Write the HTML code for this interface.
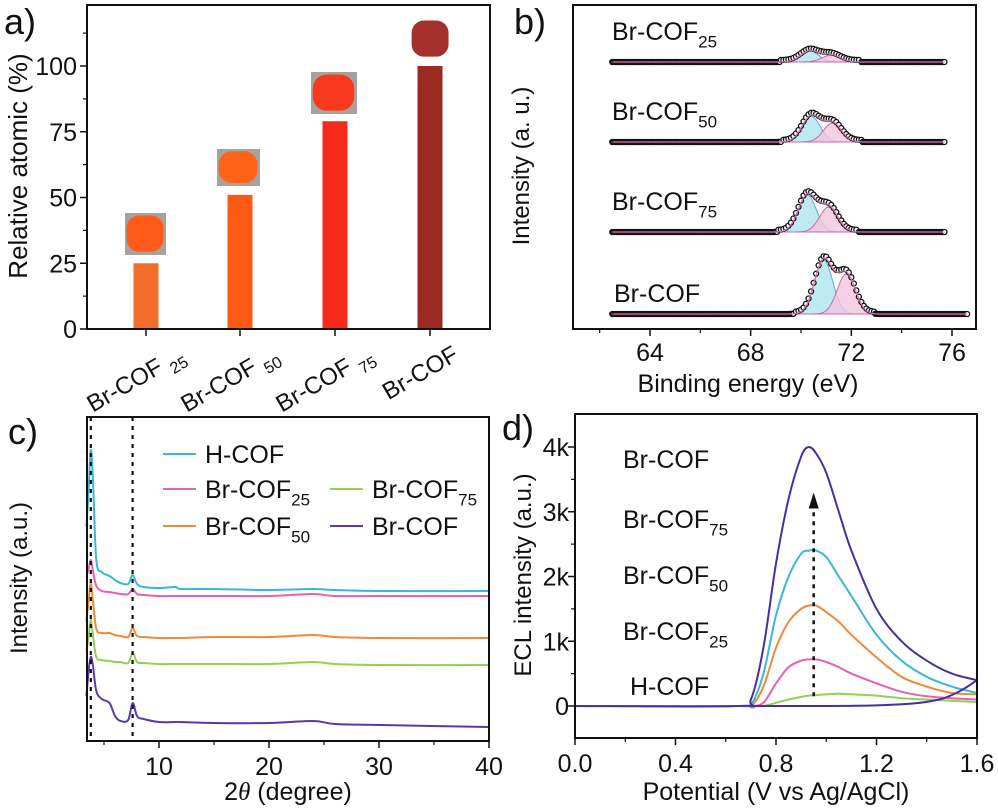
<!DOCTYPE html>
<html><head><meta charset="utf-8"><style>
body{margin:0;background:#fff}
svg{display:block;font-family:"Liberation Sans",Arial,sans-serif}
</style></head><body>
<svg id="fig" width="998" height="809" viewBox="0 0 998 809" xmlns="http://www.w3.org/2000/svg">
<g id="pa"></g>
<g id="pb"></g>
<g id="pc"></g>
<g id="pd"></g>
</svg>
<script>
// ---------- Panel a data ----------
const aCats = ["25","50","75",""];
const aVals = [25, 51, 79, 100];
const aColors = ["#f36e2b","#ff5a14","#f52a18","#9b2a22"];
const aTicks = [0,25,50,75,100];
// ---------- Panel b data ----------
const bLabels = ["25","50","75",""];
const bBase = [267,187,97,15];
const bP1c = [70.35,70.4,70.25,70.9];
const bP1h = [11,26,37,54];
const bP2c = [71.2,71.25,71.1,71.8];
const bP2h = [7,19,25,40];
const bEnd = [75.7,75.7,75.7,76.6];
const bTicks = [64,68,72,76];
// ---------- Panel c data ----------
const cX = [3.4,3.6,3.8,4.0,4.3,4.8,5.5,6.0,6.5,7.2,7.6,8.0,8.6,10,11.5,12,15,20,24,26,30,40];
const cH  = [214,250,291,260,181,169,165,161,158,157,166,157,154,153,154,152,152,151,152,151,150,150];
const c25 = [164,172,181,170,155,150,149,148,147,147,152,147,146,145,145,145,145,145,147,145,145,145];
const c50 = [120,140,158,140,112,108,108,106,105,104,113,105,104,103,103,103,104,104,106,104,103,103];
const c75 = [90,105,121,105,84,81,80,79,79,78,88,79,78,77,77,77,77,77,79,77,76,76];
const cBr = [45,70,84,75,50,42,38,25,20,21,38,25,22,19,19,19,18,18,20,17,16,14];
const cTicks = [10,20,30,40];
// ---------- Panel d data ----------
const dX = [0,0.65,0.7,0.75,0.8,0.85,0.9,0.93,0.96,1.0,1.05,1.1,1.2,1.3,1.4,1.5,1.6];
const dBr = [0,0,0.1,0.9,2.2,3.2,3.85,4.0,3.9,3.6,3.0,2.4,1.5,1.0,0.7,0.5,0.4];
const d75 = [0,0,0.02,0.5,1.4,2.0,2.35,2.4,2.4,2.3,2.0,1.7,1.1,0.7,0.45,0.3,0.2];
const d50 = [0,0,0,0.3,0.9,1.3,1.5,1.55,1.55,1.45,1.3,1.1,0.75,0.45,0.3,0.2,0.18];
const d25 = [0,0,0,0.05,0.35,0.6,0.7,0.72,0.72,0.68,0.6,0.5,0.35,0.22,0.15,0.12,0.1];
const dH  = [0,0,0,0,0.05,0.1,0.14,0.16,0.17,0.18,0.19,0.18,0.16,0.12,0.1,0.08,0.06];
const dRetX = [0.7,1.0,1.2,1.35,1.45,1.5,1.55,1.6];
const dRetY = [0,0,0.01,0.04,0.1,0.17,0.27,0.4];
const dYTicks = [0,1,2,3,4];
const dXTicks = [0,0.4,0.8,1.2,1.6];

const NS="http://www.w3.org/2000/svg";
function mk(parent,tag,attrs,text){const e=document.createElementNS(NS,tag);for(const k in attrs)e.setAttribute(k,attrs[k]);if(text!==undefined)e.textContent=text;parent.appendChild(e);return e;}
function lin(d0,d1,r0,r1){return v=>r0+(v-d0)*(r1-r0)/(d1-d0);}
function poly(xs,ys,sx,sy){return xs.map((x,i)=>sx(x).toFixed(1)+","+sy(ys[i]).toFixed(1)).join(" ");}
function smooth(xs,ys,sx,sy){
  const p=xs.map((x,i)=>[sx(x),sy(ys[i])]);
  let d=`M${p[0][0]},${p[0][1]}`;
  for(let i=0;i<p.length-1;i++){
    const p0=p[i-1]||p[i],p1=p[i],p2=p[i+1],p3=p[i+2]||p2;
    const c1=[p1[0]+(p2[0]-p0[0])/6,p1[1]+(p2[1]-p0[1])/6];
    const c2=[p2[0]-(p3[0]-p1[0])/6,p2[1]-(p3[1]-p1[1])/6];
    d+=` C${c1[0].toFixed(1)},${c1[1].toFixed(1)} ${c2[0].toFixed(1)},${c2[1].toFixed(1)} ${p2[0].toFixed(1)},${p2[1].toFixed(1)}`;
  }
  return d;
}
function label(g,x,y,main,sub,size,anchor){
  const t=mk(g,"text",{x:x,y:y,"font-size":size,"text-anchor":anchor||"start",fill:"#111"});
  t.appendChild(document.createTextNode(main));
  if(sub){const s=document.createElementNS(NS,"tspan");s.setAttribute("font-size",size*0.68);s.setAttribute("dy",size*0.3);s.textContent=sub;t.appendChild(s);}
  return t;
}

// ===== Panel a =====
(function(){
const g=document.getElementById("pa");
const L=87,R=490,T=5,B=329;
const sy=lin(0,123.2,B,T);
const xs=[146,240,335,430];
const photos=[[125,213,41,42,"#a7a29b","#ff5a1a"],[217,149,43,37,"#a7a29b","#ff6318"],[311,72,46,42,"#a7a29b","#f8391e"],[410,18,41,42,"none","#a3302a"]];
photos.forEach((p,i)=>{
  const r=mk(g,"rect",{x:p[0],y:p[1],width:p[2],height:p[3],fill:p[4]});
  
  
  const e=mk(g,"rect",{x:p[0]+p[2]*0.04,y:p[1]+p[3]*0.06,width:p[2]*0.9,height:p[3]*0.86,rx:p[2]*0.3,fill:p[5]});
  
  
});
aVals.forEach((v,i)=>{
  const b=mk(g,"rect",{x:xs[i]-12.5,y:sy(v),width:25,height:B-sy(v),fill:aColors[i]});
  
  
});
mk(g,"rect",{x:L,y:T,width:R-L,height:B-T,fill:"none",stroke:"#111","stroke-width":2});
aTicks.forEach(v=>{
  mk(g,"line",{x1:L-7,x2:L,y1:sy(v),y2:sy(v),stroke:"#111","stroke-width":1.5});
  const t=mk(g,"text",{x:L-10,y:sy(v)+9,"font-size":25,"text-anchor":"end",fill:"#111"},String(v));
  
  
});
[12.5,37.5,62.5,87.5,112.5].forEach(v=>mk(g,"line",{x1:L-4,x2:L,y1:sy(v),y2:sy(v),stroke:"#111","stroke-width":1.2}));
xs.forEach((x,i)=>{
  mk(g,"line",{x1:x,x2:x,y1:B,y2:B+7,stroke:"#111","stroke-width":1.5});
  const tg=mk(g,"g",{transform:`translate(${x+(aCats[i]?40:30)},${B+30}) rotate(-30)`});
  const t=label(tg,0,0,aCats[i]?"Br-COF ":"Br-COF",aCats[i],24,"end");
  
  
});
const yl=mk(g,"text",{x:0,y:0,"font-size":26,"text-anchor":"middle",fill:"#111",transform:"translate(27,166) rotate(-90)"},"Relative atomic (%)");


const pl=mk(g,"text",{x:4,y:34,"font-size":36,fill:"#111"},"a)");


})();

// ===== Panel b =====
(function(){
const g=document.getElementById("pb");
const L=573,R=976,T=5,B=329;
const sx=lin(64,76,650,952);
const sy=lin(0,324,B,T);
const gau=(x,c,h)=>h*Math.exp(-0.5*((x-c)/0.36)**2);
bBase.forEach((b,i)=>{
  const xs=[];for(let x=62.5;x<=bEnd[i]+1e-6;x+=0.05)xs.push(+x.toFixed(2));
  const p1=xs.map(x=>b+gau(x,bP1c[i],bP1h[i]));
  const p2=xs.map(x=>b+gau(x,bP2c[i],bP2h[i]));
  const env=xs.map((x,k)=>p1[k]+p2[k]-b);
  const a1=mk(g,"polygon",{points:poly(xs,p1,sx,sy)+` ${sx(bEnd[i])},${sy(b)} ${sx(62.5)},${sy(b)}`,fill:"#bfe9f3",stroke:"#5aaec8","stroke-width":1});
  
  
  const a2=mk(g,"polygon",{points:poly(xs,p2,sx,sy)+` ${sx(bEnd[i])},${sy(b)} ${sx(62.5)},${sy(b)}`,fill:"#f4c4dc","fill-opacity":0.8,stroke:"#c86aa8","stroke-width":1});
  
  
  const dots=mk(g,"g",{});
  
  
  for(let k=0;k<xs.length;k++){
    const x=xs[k];
    const inPeak=Math.abs(x-(bP1c[i]+bP2c[i])/2)<1.6;
    if(inPeak && k%2) continue;
    mk(dots,"circle",{cx:sx(x),cy:sy(env[k]+(inPeak?2:0)),r:2.5,fill:"#fff",stroke:"#111","stroke-width":1.3});
  }
  const env2=mk(g,"polyline",{points:poly(xs,env,sx,sy),fill:"none",stroke:"#d86fb0","stroke-width":1.2});
  
  
  const lb=label(g,bLabels[i]?612:614,sy(b)-(bLabels[i]?22:12),"Br-COF",bLabels[i],25);
  
  
});
mk(g,"rect",{x:L,y:T,width:R-L,height:B-T,fill:"none",stroke:"#111","stroke-width":2});
bTicks.forEach(v=>{
  mk(g,"line",{x1:sx(v),x2:sx(v),y1:B,y2:B+7,stroke:"#111","stroke-width":1.5});
  const t=mk(g,"text",{x:sx(v),y:B+32,"font-size":25,"text-anchor":"middle",fill:"#111"},String(v));
  
  
});
[62,66,70,74].forEach(v=>mk(g,"line",{x1:sx(v),x2:sx(v),y1:B,y2:B+4,stroke:"#111","stroke-width":1.2}));
const xt=mk(g,"text",{x:748,y:392,"font-size":25,"text-anchor":"middle",fill:"#111"},"Binding energy (eV)");


const yt=mk(g,"text",{x:0,y:0,"font-size":24,"text-anchor":"middle",fill:"#111",transform:"translate(529,166) rotate(-90)"},"Intensity (a. u.)");


const pl=mk(g,"text",{x:514,y:34,"font-size":36,fill:"#111"},"b)");


})();

// ===== Panel c =====
(function(){
const g=document.getElementById("pc");
const L=87,R=489,T=417,B=741;
const sx=lin(10,40,159,489);
const sy=lin(0,324,B,T);
const series=[[cH,"#3bb6d8","H-COF"],[c25,"#e860b0","Br-COF25"],[c50,"#f0893a","Br-COF50"],[c75,"#92d05a","Br-COF75"],[cBr,"#5a3aa8","Br-COF"]];
series.forEach(s=>{
  const p=mk(g,"path",{d:smooth(cX,s[0],sx,sy),fill:"none",stroke:s[1],"stroke-width":2,"stroke-linejoin":"round"});
  
  
});
[3.8,7.6].forEach(v=>mk(g,"line",{x1:sx(v),x2:sx(v),y1:T,y2:B,stroke:"#111","stroke-width":2.2,"stroke-dasharray":"4,5"}));
mk(g,"rect",{x:L,y:T,width:R-L,height:B-T,fill:"none",stroke:"#111","stroke-width":2});
cTicks.forEach(v=>{
  mk(g,"line",{x1:sx(v),x2:sx(v),y1:B,y2:B+7,stroke:"#111","stroke-width":1.5});
  const t=mk(g,"text",{x:sx(v),y:B+34,"font-size":25,"text-anchor":"middle",fill:"#111"},String(v));
  
  
});
[5,15,25,35].forEach(v=>mk(g,"line",{x1:sx(v),x2:sx(v),y1:B,y2:B+4,stroke:"#111","stroke-width":1.2}));
const leg=[[163,463,"#3bb6d8","H-COF",""],[163,498,"#e860b0","Br-COF","25"],[330,498,"#92d05a","Br-COF","75"],[163,535,"#f0893a","Br-COF","50"],[330,535,"#5a3aa8","Br-COF",""]];
leg.forEach(l=>{
  const e=mk(g,"g",{});
  
  
  mk(e,"line",{x1:l[0],x2:l[0]+33,y1:l[1]-9,y2:l[1]-9,stroke:l[2],"stroke-width":2});
  label(e,l[0]+42,l[1],l[3],l[4],25);
});
const xt=mk(g,"text",{x:288,y:800,"font-size":25,"text-anchor":"middle",fill:"#111"});
xt.innerHTML='2<tspan font-style="italic" font-family="Liberation Serif">θ</tspan> (degree)';


const yt=mk(g,"text",{x:0,y:0,"font-size":24,"text-anchor":"middle",fill:"#111",transform:"translate(27,578) rotate(-90)"},"Intensity (a.u.)");


const pl=mk(g,"text",{x:8,y:444,"font-size":36,fill:"#111"},"c)");


})();

// ===== Panel d =====
(function(){
const g=document.getElementById("pd");
const L=575,R=977,T=414,B=738;
const sx=lin(0,1.6,L,R);
const sy=lin(0,4,706,447);
const series=[[dH,"#92d05a","h-cof"],[d25,"#e860b0","br-cof25"],[d50,"#f0893a","br-cof50"],[d75,"#3bb6d8","br-cof75"],[dBr,"#4a2ea0","br-cof"]];
series.forEach(s=>{
  const p=mk(g,"path",{d:smooth(dX,s[0],sx,sy),fill:"none",stroke:s[1],"stroke-width":2,"stroke-linejoin":"round"});
  
  
});
const r=mk(g,"path",{d:smooth(dRetX,dRetY,sx,sy),fill:"none",stroke:"#4a2ea0","stroke-width":2});


const ar=mk(g,"g",{});


mk(ar,"line",{x1:sx(0.95),x2:sx(0.95),y1:sy(0.15),y2:sy(3.1),stroke:"#111","stroke-width":2.5,"stroke-dasharray":"4,5"});
mk(ar,"polygon",{points:`${sx(0.95)-5},${sy(3.05)} ${sx(0.95)+5},${sy(3.05)} ${sx(0.95)},${sy(3.05)-16}`,fill:"#111"});
mk(g,"rect",{x:L,y:T,width:R-L,height:B-T,fill:"none",stroke:"#111","stroke-width":2});
dYTicks.forEach(v=>{
  mk(g,"line",{x1:L-7,x2:L,y1:sy(v),y2:sy(v),stroke:"#111","stroke-width":1.5});
  const t=mk(g,"text",{x:L-6,y:sy(v)+9,"font-size":25,"text-anchor":"end",fill:"#111"},v?v+"k":"0");
  
  
});
[0.5,1.5,2.5,3.5].forEach(v=>mk(g,"line",{x1:L-4,x2:L,y1:sy(v),y2:sy(v),stroke:"#111","stroke-width":1.2}));
dXTicks.forEach(v=>{
  mk(g,"line",{x1:sx(v),x2:sx(v),y1:B,y2:B+7,stroke:"#111","stroke-width":1.5});
  const t=mk(g,"text",{x:sx(v),y:B+34,"font-size":25,"text-anchor":"middle",fill:"#111"},v.toFixed(1));
  
  
});
[0.2,0.6,1.0,1.4].forEach(v=>mk(g,"line",{x1:sx(v),x2:sx(v),y1:B,y2:B+4,stroke:"#111","stroke-width":1.2}));
const lbl=[[623,468,"Br-COF",""],[623,528,"Br-COF","75"],[623,584,"Br-COF","50"],[623,640,"Br-COF","25"],[630,695,"H-COF",""]];
lbl.forEach(l=>{const t=label(g,l[0],l[1],l[2],l[3],25);
  
  });
const xt=mk(g,"text",{x:776,y:800,"font-size":25,"text-anchor":"middle",fill:"#111"},"Potential (V vs Ag/AgCl)");


const yt=mk(g,"text",{x:0,y:0,"font-size":24,"text-anchor":"middle",fill:"#111",transform:"translate(531,575) rotate(-90)"},"ECL intensity (a.u.)");


const pl=mk(g,"text",{x:502,y:440,"font-size":36,fill:"#111"},"d)");


})();
</script>
</body></html>
